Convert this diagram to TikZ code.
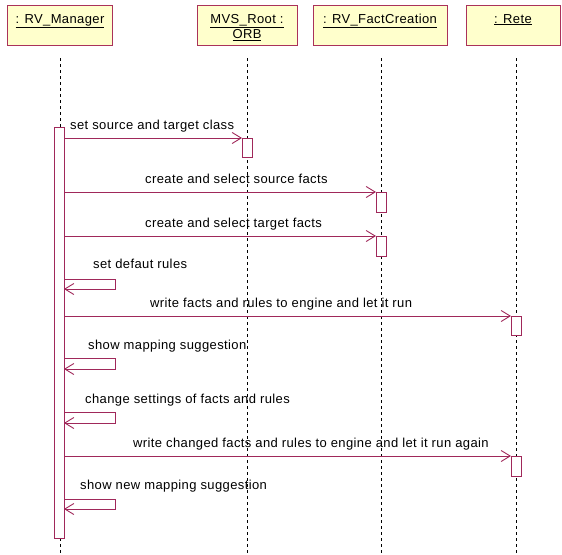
\documentclass[tikz,border=0pt]{standalone}
\usepackage{fontspec}
\setmainfont{Liberation Sans}[LetterSpace=3]
\usetikzlibrary{arrows.meta}
\definecolor{mline}{RGB}{160,40,90}
\definecolor{boxfill}{RGB}{255,255,204}
\definecolor{boxdraw}{RGB}{170,50,90}
\tikzset{
  obj/.style={draw=boxdraw,fill=boxfill,line width=1pt,anchor=north west,inner sep=0pt},
  otxt/.style={anchor=north,inner sep=0pt,align=center,font=\fontsize{13}{14}\selectfont},
  life/.style={draw=black,dashed,dash pattern=on 3pt off 3pt,line width=0.7pt},
  act/.style={draw=mline,fill=white,line width=0.9pt},
  msg/.style={draw=mline,line width=0.9pt,-{Straight Barb[length=9pt,width=11pt]}},
  lbl/.style={anchor=base west,inner sep=0pt,font=\fontsize{13}{14}\selectfont}
}
\begin{document}
\begin{tikzpicture}[x=1pt,y=-1pt]
\useasboundingbox[fill=white] (0,0) rectangle (562,554);
% objects
\node[obj,minimum width=105pt,minimum height=40pt] (m) at (7,5) {};
\node[otxt] (mt) at (60,14) {\underline{: RV\_Manager}};
\node[obj,minimum width=100pt,minimum height=40pt] (o) at (197,5) {};
\node[otxt] (ot) at (247,14) {\underline{MVS\_Root :}\\[1pt]\underline{ORB}};
\node[obj,minimum width=134pt,minimum height=40pt] (f) at (313,5) {};
\node[otxt] (ft) at (380,14) {\underline{: RV\_FactCreation}};
\node[obj,minimum width=94pt,minimum height=40pt] (r) at (466,5) {};
\node[otxt] (rt) at (513,14) {\underline{: Rete}};
% lifelines
\coordinate (m0) at (60,58); \coordinate (m1) at (60,554);
\coordinate (o0) at (247,58); \coordinate (o1) at (247,554);
\coordinate (f0) at (381,58); \coordinate (f1) at (381,554);
\coordinate (r0) at (516,58); \coordinate (r1) at (516,554);
\draw[life] (m0) -- (m1);
\draw[life] (o0) -- (o1);
\draw[life] (f0) -- (f1);
\draw[life] (r0) -- (r1);
% activations
\filldraw[act] (54,127) rectangle (64,538);
\filldraw[act] (242,138) rectangle (252,157);
\filldraw[act] (376,192) rectangle (386,212);
\filldraw[act] (376,236) rectangle (386,256);
\filldraw[act] (511,316) rectangle (521,335);
\filldraw[act] (511,456) rectangle (521,476);
% messages
\coordinate (a1) at (64,138); \coordinate (b1) at (242,138);
\draw[msg] (a1) -- (b1);
\node[lbl] (l1) at (70,129) {set source and target class};
\coordinate (a2) at (64,192); \coordinate (b2) at (376,192);
\draw[msg] (a2) -- (b2);
\node[lbl] (l2) at (145,183) {create and select source facts};
\coordinate (a3) at (64,236); \coordinate (b3) at (376,236);
\draw[msg] (a3) -- (b3);
\node[lbl] (l3) at (145,227) {create and select target facts};
% self 1
\coordinate (s1a) at (64,279); \coordinate (s1b) at (64,289);
\draw[msg] (s1a) -- (115,279) -- (115,289) -- (s1b);
\node[lbl] (l4) at (93,268) {set defaut rules};
\coordinate (a5) at (64,316); \coordinate (b5) at (511,316);
\draw[msg] (a5) -- (b5);
\node[lbl] (l5) at (150,307) {write facts and rules to engine and let it run};
\coordinate (s2a) at (64,358); \coordinate (s2b) at (64,369);
\draw[msg] (s2a) -- (115,358) -- (115,369) -- (s2b);
\node[lbl] (l6) at (88,349) {show mapping suggestion};
\coordinate (s3a) at (64,412); \coordinate (s3b) at (64,423);
\draw[msg] (s3a) -- (115,412) -- (115,423) -- (s3b);
\node[lbl] (l7) at (85,403) {change settings of facts and rules};
\coordinate (a8) at (64,456); \coordinate (b8) at (511,456);
\draw[msg] (a8) -- (b8);
\node[lbl] (l8) at (133,447) {write changed facts and rules to engine and let it run again};
\coordinate (s4a) at (64,499); \coordinate (s4b) at (64,509);
\draw[msg] (s4a) -- (115,499) -- (115,509) -- (s4b);
\node[lbl] (l9) at (80,489) {show new mapping suggestion};
\end{tikzpicture}
\end{document}
